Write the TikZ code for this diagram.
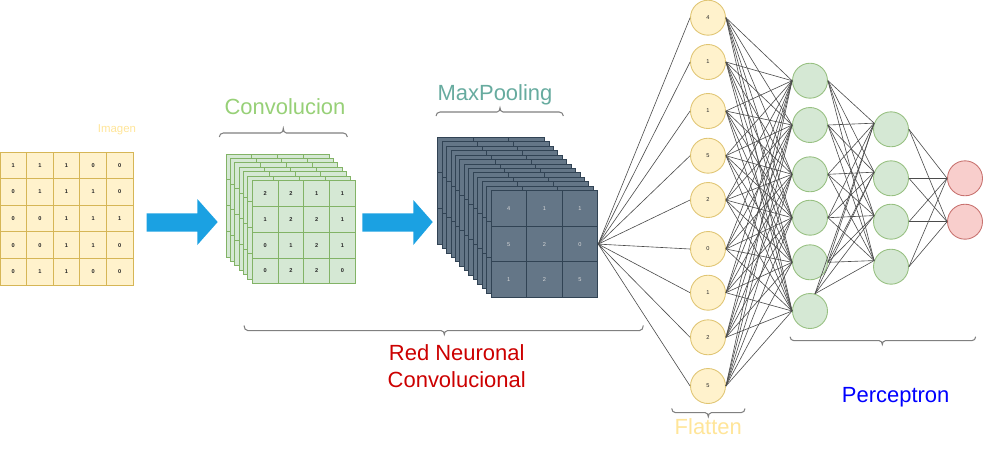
\documentclass[tikz,border=0pt]{standalone}
\usepackage{fontspec}
\setmainfont{Liberation Sans}
\definecolor{yfill}{HTML}{FFF2CC}
\definecolor{ystroke}{HTML}{D6B656}
\definecolor{gfill}{HTML}{D5E8D4}
\definecolor{gstroke}{HTML}{82B366}
\definecolor{sfill}{HTML}{647687}
\definecolor{sstroke}{HTML}{314354}
\definecolor{rfill}{HTML}{F8CECC}
\definecolor{rstroke}{HTML}{B85450}
\definecolor{arrowblue}{HTML}{1BA1E2}
\definecolor{paleyellow}{HTML}{FFE599}
\definecolor{convgreen}{HTML}{97D077}
\definecolor{poolteal}{HTML}{67AB9F}
\definecolor{cnnred}{HTML}{CC0000}
\definecolor{percblue}{HTML}{0000FF}
\begin{document}
\begin{tikzpicture}[x=0.02cm,y=-0.02cm,
  tiny/.style={font=\fontsize{3.2}{4}\selectfont},
  tinybold/.style={font=\fontsize{3.2}{4}\selectfont\bfseries},
  imgcell/.style={draw=ystroke, fill=yfill, minimum size=0.532cm, inner sep=0pt, line width=0.5pt, tinybold, text=black!85},
  convcell/.style={draw=gstroke, fill=gfill, line width=0.5pt},
  convnum/.style={draw=gstroke, fill=gfill, minimum size=0.515cm, inner sep=0pt, line width=0.5pt, tinybold, text=black!85},
  mpcell/.style={draw=sstroke, fill=sfill, line width=0.5pt},
  mpnum/.style={draw=sstroke, fill=sfill, minimum size=0.712cm, inner sep=0pt, line width=0.5pt, tiny, text=white!85!black},
  flat/.style={circle, draw=ystroke!75!yfill, fill=yfill, minimum size=0.7cm, inner sep=0pt, line width=0.5pt, tiny, text=black!85},
  hid/.style={circle, draw=gstroke!75!gfill, fill=gfill, minimum size=0.7cm, inner sep=0pt, line width=0.5pt},
  outn/.style={circle, draw=rstroke!75!rfill, fill=rfill, minimum size=0.7cm, inner sep=0pt, line width=0.5pt},
  edge/.style={draw=black!70, line width=0.35pt},
  brace/.style={draw=black!50, line width=0.6pt},
  biglabel/.style={font=\fontsize{12.5}{15.3}\selectfont, inner sep=0pt, anchor=base}
]
\useasboundingbox (0,0) rectangle (1000,458);

% ---------- input image ----------
\foreach \v [count=\i from 0] in {1,1,1,0,0, 0,1,1,1,0, 0,0,1,1,1, 0,0,1,1,0, 0,1,1,0,0} {
  \pgfmathtruncatemacro\rr{\i/5}
  \pgfmathtruncatemacro\cc{mod(\i,5)}
  \node[imgcell] (img-\rr-\cc) at ({26.6*(\cc+0.5)},{152+26.6*(\rr+0.5)}) {\v};
}
\node[font=\fontsize{6.5}{8}\selectfont, text=paleyellow, inner sep=0pt, anchor=base] (imagen) at (117,132.7) {Imagen};

% ---------- arrows ----------
\fill[arrowblue] (146.7,213.3) -- (197.3,213.3) -- (197.3,199) -- (217.7,222) -- (197.3,245) -- (197.3,231.7) -- (146.7,231.7) -- cycle;
\fill[arrowblue] (362.3,213.3) -- (413.3,213.3) -- (413.3,200) -- (432.7,222) -- (413.3,245) -- (413.3,231.7) -- (362.3,231.7) -- cycle;

% ---------- convolution stack ----------
\foreach \k in {0,...,5} {
  \foreach \r in {0,...,3} {
    \foreach \c in {0,...,3} {
      \filldraw[convcell] ({226+4.38*\k+25.75*\c},{154+4.42*\k+25.75*\r}) rectangle ++(25.75,25.75);
    }
  }
}
\foreach \v [count=\i from 0] in {2,2,1,1, 1,2,2,1, 0,1,2,1, 0,2,2,0} {
  \pgfmathtruncatemacro\rr{\i/4}
  \pgfmathtruncatemacro\cc{mod(\i,4)}
  \node[convnum] (cv-\rr-\cc) at ({252.3+25.75*(\cc+0.5)},{180.7+25.75*(\rr+0.5)}) {\v};
}

% ---------- maxpooling stack ----------
\foreach \k in {0,...,11} {
  \foreach \r in {0,...,2} {
    \foreach \c in {0,...,2} {
      \filldraw[mpcell] ({437.7+4.44*\k+35.6*\c},{137.3+4.45*\k+35.6*\r}) rectangle ++(35.6,35.6);
    }
  }
}
\foreach \v [count=\i from 0] in {4,1,1, 5,2,0, 1,2,5} {
  \pgfmathtruncatemacro\rr{\i/3}
  \pgfmathtruncatemacro\cc{mod(\i,3)}
  \node[mpnum] (mp-\rr-\cc) at ({491+35.6*(\cc+0.5)},{190.7+35.6*(\rr+0.5)}) {\v};
}

% ---------- flatten ----------
\foreach \y/\v [count=\i] in {17.7/4, 62/1, 111/1, 155.7/5, 200/2, 249/0, 292.7/1, 337.3/2, 386/5} {
  \node[flat] (f\i) at (708,\y) {\v};
}
% ---------- perceptron ----------
\foreach \y [count=\i] in {80.7,125,174.3,217.7,262.3,311} {
  \node[hid] (h\i) at (810,\y) {};
}
\foreach \y [count=\i] in {129.3,178.3,221.7,266.7} {
  \node[hid] (g\i) at (891,\y) {};
}
\foreach \y [count=\i] in {178.3,221.7} {
  \node[outn] (o\i) at (965,\y) {};
}

% ---------- connections ----------
\foreach \i in {1,...,9} {
  \draw[edge] (mp-1-2.east) -- (f\i.west);
  \foreach \j in {1,...,6} {
    \draw[edge] (f\i.east) -- (h\j.west);
  }
}
\foreach \j in {1,...,4} {
  \foreach \i in {1,...,5} {
    \draw[edge] (h\i.east) -- (g\j.160);
  }
  \draw[edge] (h6.74) -- (g\j.160);
  \foreach \m in {1,2} {
    \draw[edge] (g\j.east) -- (o\m.west);
  }
}

% ---------- braces ----------
\draw[brace] (219.3,137) to[out=90,in=180] (223.3,133) -- (280.3,133) to[out=0,in=-90] (283.3,128.3) to[out=-90,in=180] (286.3,133) -- (343.3,133) to[out=0,in=90] (347.3,137);
\draw[brace] (436,116) to[out=90,in=180] (440,112) -- (497,112) to[out=0,in=-90] (500,107.8) to[out=-90,in=180] (503,112) -- (559.3,112) to[out=0,in=90] (563.3,116);
\draw[brace] (244,325.5) to[out=-90,in=180] (248,330.7) -- (441.3,330.7) to[out=0,in=90] (444.3,334.5) to[out=90,in=180] (447.3,330.7) -- (639.3,330.7) to[out=0,in=-90] (643.3,325.5);
\draw[brace] (671.7,408.5) to[out=-90,in=180] (675.7,412.7) -- (705.3,412.7) to[out=0,in=90] (708.3,416.7) to[out=90,in=180] (711.3,412.7) -- (741,412.7) to[out=0,in=-90] (745,408.5);
\draw[brace] (790,336.7) to[out=-90,in=180] (794,340.7) -- (879.3,340.7) to[out=0,in=90] (882.3,344.5) to[out=90,in=180] (885.3,340.7) -- (971.7,340.7) to[out=0,in=-90] (975.7,336.7);

% ---------- labels ----------
\node[biglabel, text=convgreen] (lconv) at (285,114.2) {Convolucion};
\node[biglabel, text=poolteal] (lpool) at (495,100) {MaxPooling};
\node[biglabel, text=cnnred, anchor=center, align=center] (lcnn) at (456.7,366.3) {Red Neuronal\\Convolucional};
\node[biglabel, text=paleyellow] (lflat) at (708.3,434.3) {Flatten};
\node[biglabel, text=percblue] (lperc) at (895.7,402.7) {Perceptron};
\end{tikzpicture}
\end{document}
